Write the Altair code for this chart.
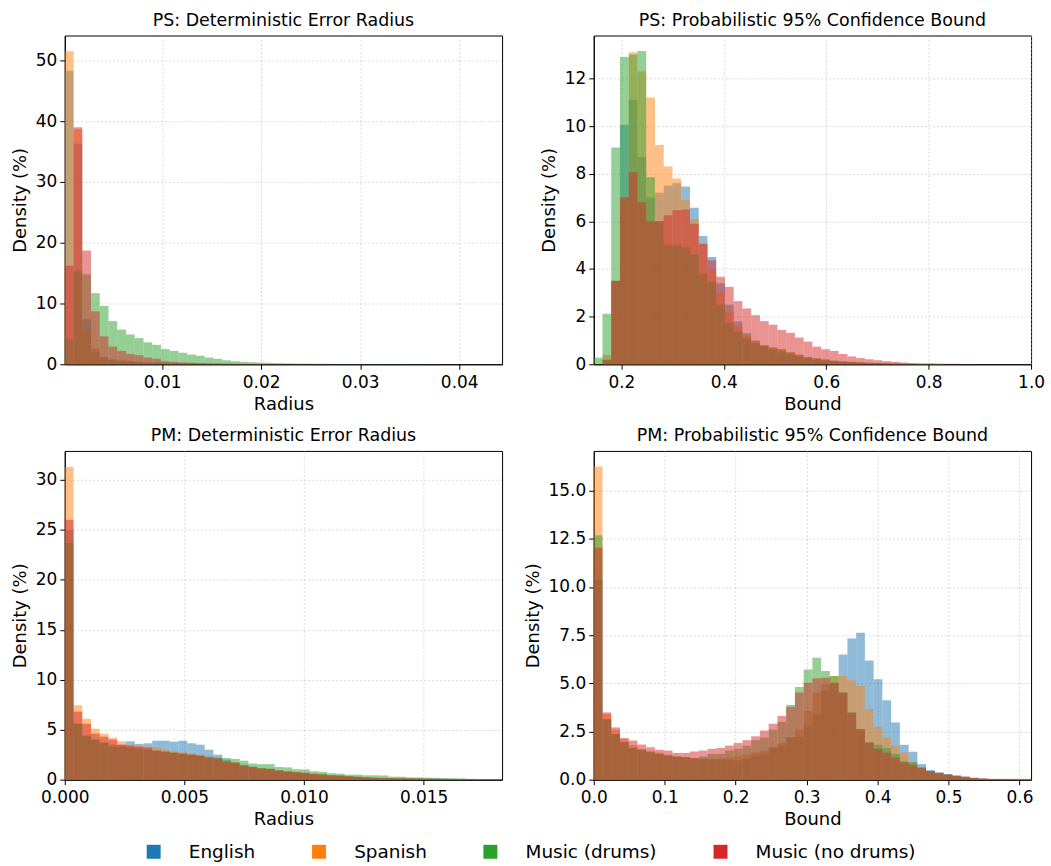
import altair as alt
import numpy as np
import pandas as pd

SERIES = ["English", "Spanish", "Music (drums)", "Music (no drums)"]
COLORS = ["#1f77b4", "#ff7f0e", "#2ca02c", "#d62728"]

# ---------------- PS: Deterministic Error Radius (50 bins) ----------------
ps_radius_range = [0.00016, 0.04433]
ps_radius_english = [48.3, 36.3, 7.4, 2.0, 1.2, 0.8, 0.6, 0.5, 0.4, 0.3, 0.3, 0.25, 0.2, 0.15, 0.15, 0.12, 0.1, 0.1, 0.08, 0.07,
                     0.06, 0.05, 0.05, 0.04, 0.04, 0.03, 0.03, 0.03, 0.02, 0.02, 0.02, 0.02, 0.02, 0.01, 0.01, 0.01, 0.01, 0.01, 0.01, 0.01,
                     0.01, 0.01, 0.01, 0.0, 0.0, 0.0, 0.0, 0.0, 0.0, 0.0]
ps_radius_spanish = [51.5, 38.7, 5.7, 2.6, 1.0, 0.7, 0.5, 0.4, 0.3, 0.25, 0.2, 0.15, 0.12, 0.1, 0.08, 0.07, 0.06, 0.05, 0.04, 0.03,
                     0.03, 0.02, 0.02, 0.02, 0.01, 0.01, 0.01, 0.01, 0.01, 0.01, 0.0, 0.0, 0.0, 0.0, 0.0, 0.0, 0.0, 0.0, 0.0, 0.0,
                     0.0, 0.0, 0.0, 0.0, 0.0, 0.0, 0.0, 0.0, 0.0, 0.0]
ps_radius_drums = [4.1, 15.4, 14.8, 11.7, 9.6, 7.1, 5.7, 4.9, 4.3, 3.6, 3.2, 2.5, 2.2, 1.9, 1.6, 1.4, 1.1, 0.9, 0.65, 0.5,
                   0.4, 0.33, 0.27, 0.22, 0.18, 0.15, 0.12, 0.1, 0.09, 0.08, 0.07, 0.06, 0.05, 0.05, 0.04, 0.04, 0.03, 0.03, 0.03, 0.02,
                   0.02, 0.02, 0.02, 0.01, 0.01, 0.01, 0.01, 0.01, 0.01, 0.01]
ps_radius_nodrums = [16.2, 39.0, 18.7, 8.7, 4.6, 2.9, 2.2, 1.7, 1.5, 1.1, 0.9, 0.5, 0.4, 0.3, 0.25, 0.2, 0.15, 0.12, 0.1, 0.08,
                     0.06, 0.05, 0.04, 0.03, 0.03, 0.02, 0.02, 0.02, 0.01, 0.01, 0.01, 0.0, 0.0, 0.0, 0.0, 0.0, 0.0, 0.0, 0.0, 0.0,
                     0.0, 0.0, 0.0, 0.0, 0.0, 0.0, 0.0, 0.0, 0.0, 0.0]

# ---------------- PS: Probabilistic 95% Confidence Bound ----------------
ps_bound_range = [0.146, 1.0]
ps_bound_english = [0.0, 0.2, 3.5, 10.05, 11.1, 8.7, 7.0, 7.2, 7.5, 7.6, 7.46, 6.57, 5.38, 4.5, 3.4, 2.5, 1.8, 1.3, 1.0, 0.8,
                    0.62, 0.5, 0.4, 0.32, 0.26, 0.2, 0.15, 0.12, 0.1, 0.08, 0.06, 0.05, 0.04, 0.03, 0.02, 0.02, 0.01, 0.01, 0.01, 0.01,
                    0.0, 0.0, 0.0, 0.0, 0.0, 0.0, 0.0, 0.0, 0.0, 0.0]
ps_bound_spanish = [0.0, 0.39, 3.5, 7.0, 13.1, 12.3, 11.2, 9.2, 8.3, 7.8, 6.9, 6.1, 5.06, 4.0, 3.0, 2.2, 1.6, 1.2, 0.95, 0.77,
                    0.7, 0.63, 0.5, 0.4, 0.3, 0.25, 0.2, 0.15, 0.12, 0.1, 0.08, 0.06, 0.05, 0.04, 0.03, 0.02, 0.02, 0.01, 0.01, 0.01,
                    0.0, 0.0, 0.0, 0.0, 0.0, 0.0, 0.0, 0.0, 0.0, 0.0]
ps_bound_drums = [0.28, 2.12, 9.1, 12.9, 13.0, 13.15, 7.85, 6.0, 5.0, 5.0, 4.9, 4.6, 3.8, 3.46, 2.5, 1.74, 1.37, 1.09, 0.88, 0.77,
                  0.7, 0.63, 0.5, 0.4, 0.3, 0.25, 0.2, 0.15, 0.12, 0.1, 0.08, 0.06, 0.05, 0.04, 0.03, 0.02, 0.02, 0.01, 0.01, 0.01,
                  0.0, 0.0, 0.0, 0.0, 0.0, 0.0, 0.0, 0.0, 0.0, 0.0]
ps_bound_nodrums = [0.0, 0.18, 3.5, 7.0, 8.06, 6.8, 6.0, 6.0, 6.25, 6.46, 6.5, 5.9, 5.06, 4.37, 3.67, 3.25, 2.65, 2.34, 2.06, 1.81,
                    1.66, 1.44, 1.32, 1.12, 0.95, 0.74, 0.63, 0.56, 0.43, 0.33, 0.26, 0.21, 0.17, 0.13, 0.1, 0.07, 0.05, 0.04, 0.04, 0.03,
                    0.02, 0.02, 0.01, 0.01, 0.0, 0.0, 0.0, 0.0, 0.0, 0.0]

# ---------------- PM: Deterministic Error Radius ----------------
pm_radius_range = [0.0, 0.01828]
pm_radius_english = [25.0, 5.6, 4.4, 4.0, 3.7, 3.5, 3.5, 3.84, 3.58, 3.64, 3.9, 3.9, 3.8, 3.9, 3.64, 3.5, 3.0, 2.5, 2.0, 1.7,
                     1.5, 1.3, 1.17, 1.1, 0.95, 0.85, 0.77, 0.7, 0.6, 0.55, 0.45, 0.42, 0.35, 0.3, 0.25, 0.2, 0.18, 0.17, 0.15, 0.13,
                     0.12, 0.1, 0.1, 0.09, 0.08, 0.07, 0.07, 0.06, 0.05, 0.05]
pm_radius_spanish = [31.3, 7.45, 6.1, 5.1, 4.6, 4.2, 3.84, 3.5, 3.34, 3.3, 3.23, 3.0, 2.85, 2.75, 2.6, 2.5, 2.3, 2.15, 1.85, 1.75,
                     1.45, 1.3, 1.17, 1.1, 0.95, 0.85, 0.77, 0.7, 0.6, 0.55, 0.45, 0.42, 0.35, 0.3, 0.25, 0.2, 0.18, 0.17, 0.15, 0.13,
                     0.12, 0.1, 0.1, 0.09, 0.08, 0.07, 0.07, 0.06, 0.05, 0.05]
pm_radius_drums = [23.65, 5.6, 4.4, 4.0, 3.7, 3.3, 3.3, 3.2, 3.1, 3.0, 2.9, 2.8, 2.7, 2.6, 2.5, 2.4, 2.3, 2.23, 2.17, 2.07,
                   1.9, 1.62, 1.55, 1.55, 1.27, 1.23, 1.05, 1.03, 0.85, 0.78, 0.65, 0.6, 0.5, 0.5, 0.44, 0.44, 0.42, 0.3, 0.3, 0.23,
                   0.22, 0.2, 0.18, 0.14, 0.13, 0.12, 0.08, 0.07, 0.07, 0.06]
pm_radius_nodrums = [26.0, 6.8, 5.6, 4.6, 4.3, 4.0, 3.5, 3.4, 3.3, 3.2, 2.9, 2.8, 2.7, 2.6, 2.5, 2.4, 2.2, 2.1, 1.8, 1.7,
                     1.4, 1.25, 1.1, 1.05, 0.9, 0.8, 0.73, 0.65, 0.57, 0.5, 0.42, 0.38, 0.32, 0.27, 0.22, 0.18, 0.16, 0.15, 0.13, 0.12,
                     0.1, 0.09, 0.08, 0.08, 0.07, 0.06, 0.06, 0.05, 0.04, 0.04]

# ---------------- PM: Probabilistic 95% Confidence Bound ----------------
pm_bound_range = [0.0, 0.6163]
pm_bound_english = [10.36, 3.14, 2.37, 1.94, 1.65, 1.55, 1.43, 1.34, 1.25, 1.2, 1.17, 1.12, 1.08, 1.05, 1.05, 1.05, 1.0, 1.07, 1.24, 1.33,
                    1.67, 1.76, 2.19, 2.22, 2.8, 3.4, 4.6, 5.0, 6.5, 7.33, 7.62, 6.19, 5.21, 4.12, 2.97, 1.81, 1.45, 0.81, 0.5, 0.38,
                    0.29, 0.22, 0.16, 0.09, 0.05, 0.03, 0.03, 0.02, 0.02, 0.02]
pm_bound_spanish = [16.25, 3.4, 2.6, 2.1, 1.8, 1.6, 1.5, 1.4, 1.3, 1.2, 1.17, 1.12, 1.08, 1.1, 1.1, 1.15, 1.2, 1.3, 1.4, 1.5,
                    1.7, 1.9, 2.19, 2.6, 3.57, 4.52, 4.95, 5.38, 5.38, 5.16, 4.86, 3.66, 2.74, 2.19, 1.76, 1.41, 0.9, 0.64, 0.38, 0.29,
                    0.24, 0.17, 0.12, 0.09, 0.06, 0.05, 0.05, 0.05, 0.05, 0.05]
pm_bound_drums = [12.68, 3.14, 2.37, 1.94, 1.65, 1.55, 1.43, 1.34, 1.25, 1.2, 1.17, 1.12, 1.2, 1.34, 1.34, 1.51, 1.6, 1.76, 2.05, 2.19,
                  2.6, 3.0, 3.88, 4.81, 5.72, 6.33, 5.64, 5.38, 4.52, 3.48, 2.62, 1.93, 1.81, 1.64, 1.33, 0.95, 0.9, 0.64, 0.45, 0.35,
                  0.26, 0.2, 0.15, 0.09, 0.05, 0.03, 0.02, 0.02, 0.01, 0.01]
pm_bound_nodrums = [12.03, 3.49, 2.71, 2.16, 2.03, 1.82, 1.68, 1.55, 1.51, 1.39, 1.39, 1.46, 1.51, 1.6, 1.65, 1.77, 1.9, 2.05, 2.25, 2.55,
                    2.9, 3.31, 3.78, 4.52, 5.03, 5.26, 5.29, 5.03, 4.52, 3.48, 2.62, 1.93, 1.6, 1.4, 1.15, 0.9, 0.75, 0.6, 0.45, 0.35,
                    0.27, 0.2, 0.15, 0.1, 0.06, 0.04, 0.03, 0.02, 0.01, 0.01]

FONT = "DejaVu Sans"


def panel(title, xtitle, rng, series_vals, ymax, xticks, xfmt, yticks, yfmt):
    edges = np.linspace(rng[0], rng[1], len(series_vals[0]) + 1)
    rows = []
    for si, vals in enumerate(series_vals):
        for k, v in enumerate(vals):
            rows.append({"x0": edges[k], "x1": edges[k + 1], "y": v, "base": 0.0,
                         "series": SERIES[si], "ord": si})
    df = pd.DataFrame(rows)
    return alt.Chart(df).mark_rect(opacity=0.5, strokeWidth=0).encode(
        x=alt.X("x0:Q", title=xtitle,
                scale=alt.Scale(domain=rng, nice=False, zero=False),
                axis=alt.Axis(values=xticks, format=xfmt, labelPadding=5, titlePadding=5)),
        x2="x1:Q",
        y=alt.Y("y:Q", title="Density (%)",
                scale=alt.Scale(domain=[0, ymax], nice=False),
                axis=alt.Axis(values=yticks, format=yfmt)),
        y2="base:Q",
        color=alt.Color("series:N", scale=alt.Scale(domain=SERIES, range=COLORS),
                        legend=alt.Legend(title=None, orient="none", direction="horizontal",
                                          legendX=80, legendY=810)),
        order=alt.Order("ord:Q"),
    ).properties(width=439, height=330,
                 title=alt.TitleParams(title, fontSize=17.5, fontWeight="normal", font=FONT, offset=6))


p1 = panel("PS: Deterministic Error Radius", "Radius", ps_radius_range,
           [ps_radius_english, ps_radius_spanish, ps_radius_drums, ps_radius_nodrums],
           54.1, [0.01, 0.02, 0.03, 0.04], ".2f", [0, 10, 20, 30, 40, 50], "d")
p2 = panel("PS: Probabilistic 95% Confidence Bound", "Bound", ps_bound_range,
           [ps_bound_english, ps_bound_spanish, ps_bound_drums, ps_bound_nodrums],
           13.8, [0.2, 0.4, 0.6, 0.8, 1.0], ".1f", [0, 2, 4, 6, 8, 10, 12], "d")
p3 = panel("PM: Deterministic Error Radius", "Radius", pm_radius_range,
           [pm_radius_english, pm_radius_spanish, pm_radius_drums, pm_radius_nodrums],
           32.9, [0.0, 0.005, 0.01, 0.015], ".3f", [0, 5, 10, 15, 20, 25, 30], "d")
p4 = panel("PM: Probabilistic 95% Confidence Bound", "Bound", pm_bound_range,
           [pm_bound_english, pm_bound_spanish, pm_bound_drums, pm_bound_nodrums],
           17.06, [0.0, 0.1, 0.2, 0.3, 0.4, 0.5, 0.6], ".1f", [0, 2.5, 5, 7.5, 10, 12.5, 15], ".1f")

chart = alt.concat(p1, p2, p3, p4, columns=2, spacing={"row": 13, "column": 20}).properties(
    padding={"left": 10, "top": 10, "right": 5, "bottom": 0}
).configure_view(stroke="black", strokeWidth=1).configure_axis(
    labelFont=FONT, titleFont=FONT, labelFontSize=17, titleFontSize=18, titleFontWeight="normal",
    labelColor="black", titleColor="black", domainColor="black", tickColor="black",
    tickSize=5, labelPadding=3, titlePadding=6, labelFlush=False,
    grid=True, gridColor="#b0b0b0", gridDash=[2, 2], gridOpacity=0.6, gridWidth=0.8,
).configure_legend(
    labelFont=FONT, labelFontSize=18.5, symbolType="square", symbolSize=196, symbolOpacity=1,
    symbolStrokeWidth=0, labelOffset=26, columnPadding=54, labelColor="black", padding=0, labelLimit=0
)

chart.save("out.html", embed_options={"renderer": "svg", "actions": False})
